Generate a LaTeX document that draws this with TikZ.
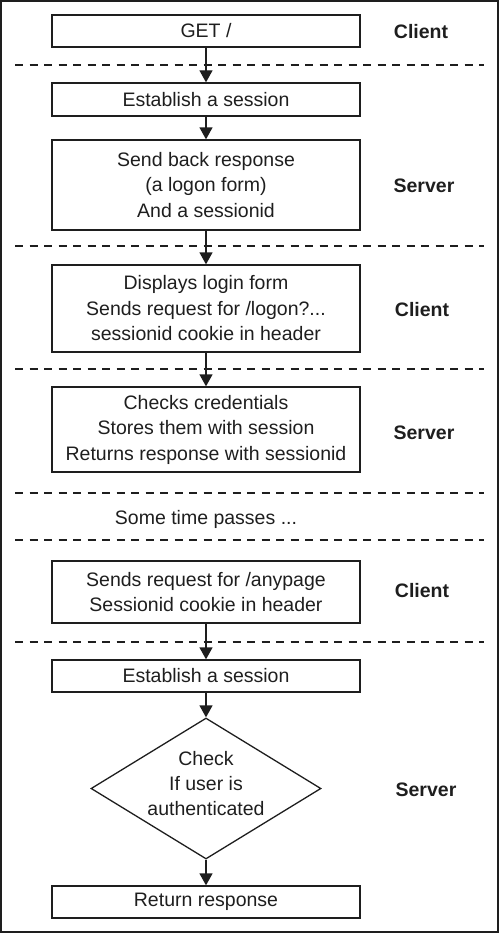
\documentclass[tikz,border=0pt]{standalone}
\usepackage{fontspec}
\setmainfont{Liberation Sans}
\usetikzlibrary{arrows.meta,shapes.geometric}
\definecolor{ink}{HTML}{1E1E1E}
\begin{document}
\begin{tikzpicture}[x=1pt,y=-1pt,
  box/.style={draw=ink,line width=1.3pt,minimum width=308pt,inner sep=0pt,align=center,
    font=\fontsize{19.5}{25.5}\selectfont,text=ink},
  lbl/.style={font=\fontsize{19.5}{22}\selectfont\bfseries,text=ink},
  sep/.style={draw=ink,line width=1.1pt,dash pattern=on 8pt off 6.5pt},
  flow/.style={draw=ink,line width=1.3pt,-{Triangle[width=13pt,length=12pt]}},
  txt/.style={font=\fontsize{19.5}{25}\selectfont,text=ink,align=center}]
\useasboundingbox (0,0) rectangle (500,934);
\draw[ink,line width=1.6pt] (1,1) rectangle (498,932);
% separators
\foreach \yy in {65,246,369,493,540,642}
  \draw[sep] (15,\yy) -- (484,\yy);
% boxes
\node[box,minimum height=32pt] (get) at (206,31) {GET /};
\node[box,minimum height=33pt] (est1) at (206,99.5) {Establish a session};
\node[box,minimum height=90pt] (resp) at (206,185) {Send back response\\(a logon form)\\And a sessionid};
\node[box,minimum height=87pt] (disp) at (206,308.5) {Displays login form\\Sends request for /logon?...\\sessionid cookie in header};
\node[box,minimum height=85pt] (chkc) at (206,429.5) {Checks credentials\\Stores them with session\\Returns response with sessionid};
\node[txt] (time) at (206,519) {Some time passes ...};
\node[box,minimum height=62pt] (any) at (206,592) {Sends request for /anypage\\Sessionid cookie in header};
\node[box,minimum height=32pt] (est2) at (206,676) {Establish a session};
\node[draw=ink,line width=1.3pt,shape=diamond,minimum width=230pt,minimum height=141pt,inner sep=0pt] (chk) at (206,788.5) {};
\node[txt] (chktxt) at (206,784) {Check\\If user is\\authenticated};
\node[box,minimum height=32pt] (ret) at (206,902) {Return response};
% labels
\node[lbl] (l1) at (421,32) {Client};
\node[lbl] (l2) at (424,186) {Server};
\node[lbl] (l3) at (422,310) {Client};
\node[lbl] (l4) at (424,433) {Server};
\node[lbl] (l5) at (422,591) {Client};
\node[lbl] (l6) at (426,790) {Server};
% arrows
\draw[flow] (get) -- (est1);
\draw[flow] (est1) -- (resp);
\draw[flow] (resp) -- (disp);
\draw[flow] (disp) -- (chkc);
\draw[flow] (any) -- (est2);
\draw[flow] (est2) -- (chk.north);
\draw[flow] (chk.south) -- (ret);
\end{tikzpicture}
\end{document}
